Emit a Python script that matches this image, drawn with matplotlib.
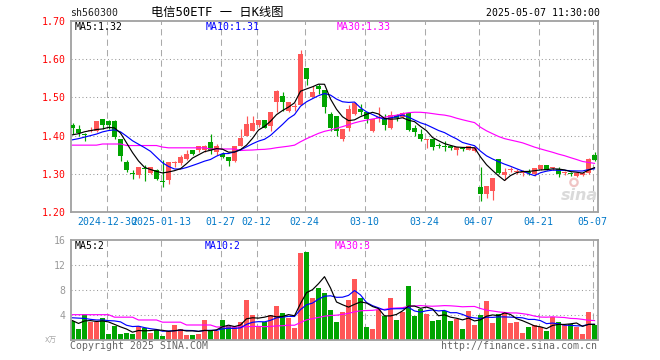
import matplotlib
matplotlib.use("Agg")
import matplotlib.pyplot as plt
import numpy as np

# ---------------- data ----------------
dates = [
    "2024-12-20", "2024-12-23", "2024-12-24", "2024-12-25", "2024-12-26", "2024-12-27",
    "2024-12-30", "2024-12-31", "2025-01-02", "2025-01-03", "2025-01-06", "2025-01-07",
    "2025-01-08", "2025-01-09", "2025-01-10", "2025-01-13", "2025-01-14", "2025-01-15",
    "2025-01-16", "2025-01-17", "2025-01-20", "2025-01-21", "2025-01-22", "2025-01-23",
    "2025-01-24", "2025-01-27", "2025-02-05", "2025-02-06", "2025-02-07", "2025-02-10",
    "2025-02-11", "2025-02-12", "2025-02-13", "2025-02-14", "2025-02-17", "2025-02-18",
    "2025-02-19", "2025-02-20", "2025-02-21", "2025-02-24", "2025-02-25", "2025-02-26",
    "2025-02-27", "2025-02-28", "2025-03-03", "2025-03-04", "2025-03-05", "2025-03-06",
    "2025-03-07", "2025-03-10", "2025-03-11", "2025-03-12", "2025-03-13", "2025-03-14",
    "2025-03-17", "2025-03-18", "2025-03-19", "2025-03-20", "2025-03-21", "2025-03-24",
    "2025-03-25", "2025-03-26", "2025-03-27", "2025-03-28", "2025-03-31", "2025-04-01",
    "2025-04-02", "2025-04-03", "2025-04-07", "2025-04-08", "2025-04-09", "2025-04-10",
    "2025-04-11", "2025-04-14", "2025-04-15", "2025-04-16", "2025-04-17", "2025-04-18",
    "2025-04-21", "2025-04-22", "2025-04-23", "2025-04-24", "2025-04-25", "2025-04-28",
    "2025-04-29", "2025-04-30", "2025-05-06", "2025-05-07",
]

open_ = [
    1.427, 1.416, 1.405, 1.411, 1.412, 1.444, 1.438, 1.437, 1.390, 1.330,
    1.301, 1.296, 1.316, 1.303, 1.310, 1.280, 1.284, 1.328, 1.327, 1.339,
    1.361, 1.362, 1.363, 1.382, 1.358, 1.352, 1.345, 1.333, 1.373, 1.400,
    1.413, 1.427, 1.442, 1.426, 1.488, 1.503, 1.464, 1.475, 1.481, 1.578,
    1.502, 1.530, 1.520, 1.456, 1.452, 1.390, 1.421, 1.456, 1.469, 1.462,
    1.411, 1.445, 1.447, 1.421, 1.454, 1.450, 1.459, 1.420, 1.405, 1.389,
    1.390, 1.375, 1.373, 1.373, 1.362, 1.365, 1.362, 1.360, 1.265, 1.246,
    1.255, 1.338, 1.298, 1.310, 1.306, 1.303, 1.304, 1.300, 1.313, 1.322,
    1.314, 1.313, 1.303, 1.301, 1.295, 1.297, 1.302, 1.348,
]
high = [
    1.433, 1.427, 1.406, 1.423, 1.437, 1.444, 1.440, 1.442, 1.390, 1.335,
    1.310, 1.317, 1.322, 1.319, 1.312, 1.335, 1.331, 1.333, 1.350, 1.361,
    1.363, 1.372, 1.376, 1.403, 1.378, 1.356, 1.345, 1.373, 1.418, 1.452,
    1.452, 1.442, 1.442, 1.463, 1.520, 1.514, 1.488, 1.486, 1.623, 1.578,
    1.530, 1.536, 1.520, 1.462, 1.452, 1.417, 1.479, 1.487, 1.482, 1.462,
    1.444, 1.475, 1.456, 1.464, 1.456, 1.462, 1.459, 1.427, 1.416, 1.392,
    1.390, 1.380, 1.387, 1.373, 1.370, 1.368, 1.374, 1.372, 1.317, 1.269,
    1.289, 1.338, 1.315, 1.317, 1.313, 1.309, 1.313, 1.315, 1.322, 1.322,
    1.319, 1.317, 1.307, 1.304, 1.302, 1.303, 1.341, 1.358,
]
low = [
    1.403, 1.400, 1.386, 1.409, 1.410, 1.417, 1.418, 1.390, 1.333, 1.304,
    1.286, 1.289, 1.281, 1.300, 1.283, 1.265, 1.272, 1.317, 1.324, 1.337,
    1.348, 1.357, 1.358, 1.353, 1.350, 1.342, 1.320, 1.330, 1.372, 1.398,
    1.411, 1.422, 1.420, 1.412, 1.461, 1.464, 1.461, 1.464, 1.479, 1.532,
    1.501, 1.510, 1.458, 1.413, 1.400, 1.387, 1.413, 1.455, 1.453, 1.433,
    1.409, 1.435, 1.414, 1.417, 1.438, 1.447, 1.411, 1.400, 1.385, 1.368,
    1.361, 1.368, 1.359, 1.361, 1.348, 1.360, 1.361, 1.356, 1.228, 1.236,
    1.231, 1.300, 1.284, 1.304, 1.300, 1.293, 1.298, 1.293, 1.309, 1.309,
    1.310, 1.291, 1.298, 1.293, 1.292, 1.295, 1.300, 1.333,
]
close = [
    1.420, 1.407, 1.402, 1.414, 1.437, 1.427, 1.427, 1.396, 1.346, 1.310,
    1.299, 1.317, 1.313, 1.317, 1.286, 1.278, 1.330, 1.330, 1.343, 1.351,
    1.352, 1.372, 1.372, 1.361, 1.373, 1.344, 1.333, 1.373, 1.394, 1.431,
    1.433, 1.442, 1.420, 1.462, 1.517, 1.487, 1.487, 1.476, 1.614, 1.547,
    1.515, 1.521, 1.475, 1.421, 1.413, 1.417, 1.470, 1.485, 1.463, 1.443,
    1.444, 1.448, 1.427, 1.453, 1.447, 1.459, 1.415, 1.409, 1.390, 1.391,
    1.370, 1.373, 1.371, 1.367, 1.370, 1.364, 1.372, 1.368, 1.246, 1.269,
    1.289, 1.302, 1.306, 1.311, 1.307, 1.304, 1.303, 1.315, 1.322, 1.310,
    1.315, 1.300, 1.304, 1.300, 1.302, 1.303, 1.339, 1.337,
]
volume = [
    3.15, 1.80, 4.20, 3.00, 2.90, 3.60, 1.00, 2.25, 1.00, 1.17,
    1.07, 2.35, 1.97, 1.23, 1.70, 0.75, 1.50, 2.50, 1.87, 0.85,
    0.85, 1.07, 3.30, 1.60, 1.55, 3.30, 2.35, 2.20, 2.85, 6.50,
    4.10, 2.10, 2.95, 4.10, 5.50, 4.40, 3.60, 2.00, 13.9, 14.2,
    6.80, 8.40, 7.60, 4.85, 3.00, 4.60, 6.50, 9.80, 6.80, 2.13,
    1.80, 4.85, 3.95, 6.80, 3.30, 4.60, 8.75, 3.95, 5.00, 4.27,
    3.10, 3.30, 4.70, 3.15, 3.40, 1.80, 4.70, 2.45, 4.05, 6.30,
    2.80, 4.15, 4.60, 2.80, 2.95, 1.17, 2.13, 2.45, 2.10, 1.50,
    3.70, 2.95, 2.45, 2.55, 2.20, 1.00, 4.55, 2.45,
]

# closes before the first visible day (for the early moving averages)
prior_close = [1.377, 1.362, 1.374, 1.397, 1.370, 1.392, 1.377, 1.399, 1.422]
ma30_head = [1.375] * 5 + [1.378] * 4 + [1.374] * 6 + [1.370] + [1.368] * 7 + [1.365] * 5 + [1.361]
vol_ma5_head = [3.15, 2.7, 3.1, 3.15]
vol_ma10_head = [3.6, 3.55, 3.5, 3.35, 3.25, 3.25, 3.15, 3.1, 2.95]
vol_ma30_head = [4.1] * 7 + [3.7] * 4 + [3.25] * 4 + [2.9] * 4 + [2.45] * 5 + [2.13] * 5

tick_dates = ["2024-12-30", "2025-01-13", "2025-01-27", "2025-02-12", "2025-02-24",
              "2025-03-10", "2025-03-24", "2025-04-07", "2025-04-21", "2025-05-07"]
tick_labels = ["2024-12-30", "2025-01-13", "01-27", "02-12", "02-24",
               "03-10", "03-24", "04-07", "04-21", "05-07"]
price_ticks = [1.20, 1.30, 1.40, 1.50, 1.60, 1.70]
vol_ticks = [4, 8, 12, 16]
price_legend = ["MA5:1.32", "MA10:1.31", "MA30:1.33"]
vol_legend = ["MA5:2", "MA10:2", "MA30:3"]
title_code = "sh560300"
title_name = "电信50ETF 一 日K线图"
title_time = "2025-05-07 11:30:00"

# ---------------- derived ----------------
n = len(close)
x = np.arange(n)
o = np.array(open_); h = np.array(high); l = np.array(low); c = np.array(close)
v = np.array(volume)
fullc = np.array(prior_close + close)
k = len(prior_close)
ma5 = np.array([fullc[k + i - 4:k + i + 1].mean() for i in range(n)])
ma10 = np.array([fullc[k + i - 9:k + i + 1].mean() for i in range(n)])
ma30 = np.array([ma30_head[i] if i < 29 else c[i - 29:i + 1].mean() for i in range(n)])
vma5 = np.array([vol_ma5_head[i] if i < 4 else v[i - 4:i + 1].mean() for i in range(n)])
vma10 = np.array([vol_ma10_head[i] if i < 9 else v[i - 9:i + 1].mean() for i in range(n)])
vma30 = np.array([vol_ma30_head[i] if i < 29 else v[i - 29:i + 1].mean() for i in range(n)])

RED = "#ff5757"
GREEN = "#00a400"
up = c >= o
cols = np.where(up, RED, GREEN)

W, H = 660, 360
fig = plt.figure(figsize=(6.6, 3.6), dpi=100)
fig.patch.set_facecolor("white")
MONO = "DejaVu Sans Mono"
FS = 7.1


def fx(px):
    return px / W


def fy(py):
    return 1 - py / H


ax = fig.add_axes([fx(70.7), fy(212), fx(597.7) - fx(70.7), fy(21) - fy(212)])
axv = fig.add_axes([fx(70.7), fy(340.3), fx(597.7) - fx(70.7), fy(240.3) - fy(340.3)])

XL = (-0.3, n - 1 + 0.53)
tick_idx = [dates.index(d) for d in tick_dates]
for a in (ax, axv):
    a.set_xlim(*XL)
    a.set_xticks([])
    for s in a.spines.values():
        s.set_color("#a0a0a0")
        s.set_linewidth(1.3)
    for t in tick_idx:
        a.axvline(t - 0.28, color="#aaaaaa", lw=0.75, linestyle=(0, (6, 4)), zorder=0)

# price panel
ax.set_ylim(1.20, 1.70)
for p in price_ticks[1:-1]:
    ax.axhline(p, color="#999999", lw=0.75, linestyle=(0, (1, 2.5)), zorder=0)
ax.set_yticks(price_ticks)
ax.set_yticklabels([f"{p:.2f}" for p in price_ticks], color="red", fontsize=FS, family=MONO)
ax.tick_params(axis="y", length=0, pad=3.5)

# watermark (behind the candles)
ax.text(0.965, 0.085, "sina", transform=ax.transAxes, fontsize=11.5, style="italic",
        weight="bold", color="#dadada", va="center", ha="center", zorder=1)
ax.scatter([0.955], [0.155], transform=ax.transAxes, s=28, facecolors="none",
           edgecolors="#f0c4c4", linewidths=1.6, zorder=1)

ax.vlines(x, l, h, colors=cols, lw=0.85, zorder=2)
body_h = np.maximum(np.abs(c - o), 0.0026)
ax.bar(x, body_h, bottom=np.minimum(o, c), width=0.8, color=cols, linewidth=0, zorder=3)
ax.plot(x, ma30, color="#ff00ff", lw=0.85, zorder=4)
ax.plot(x, ma10, color="#0000ff", lw=0.85, zorder=4)
ax.plot(x, ma5, color="black", lw=0.85, zorder=4)

for txt, xp, col in zip(price_legend, [74.5, 205.5, 336.5], ["black", "#0000ff", "#ff00ff"]):
    fig.text(fx(xp), fy(26.7), txt, color=col, fontsize=FS, family=MONO, va="center", ha="left")

for t, lab in zip(tick_idx, tick_labels):
    xpix = 70.7 + (t - 0.28 - XL[0]) / (XL[1] - XL[0]) * (597.7 - 70.7)
    fig.text(fx(xpix), fy(221.7), lab, color="#0078c8", fontsize=FS, family=MONO,
             ha="center", va="center")

# volume panel
axv.set_ylim(0, 16)
for q in vol_ticks[:-1]:
    axv.axhline(q, color="#999999", lw=0.75, linestyle=(0, (1, 2.5)), zorder=0)
axv.set_yticks(vol_ticks)
axv.set_yticklabels([str(q) for q in vol_ticks], color="#999999", fontsize=FS, family=MONO)
axv.tick_params(axis="y", length=0, pad=3.5)
axv.bar(x, v, width=0.82, color=cols, linewidth=0, zorder=2)
axv.plot(x, vma30, color="#ff00ff", lw=0.85, zorder=4)
axv.plot(x, vma10, color="#0000ff", lw=0.85, zorder=4)
axv.plot(x, vma5, color="black", lw=0.85, zorder=4)
for txt, xp, col in zip(vol_legend, [74.7, 205, 335], ["black", "#0000ff", "#ff00ff"]):
    fig.text(fx(xp), fy(246), txt, color=col, fontsize=FS, family=MONO, va="center", ha="left")

# header / footer
fig.text(fx(70), fy(13.3), title_code, fontsize=FS, family=MONO, va="center", ha="left", color="#222222")
fig.text(fx(217), fy(12), title_name, fontsize=8.8, family=[MONO, "Noto Sans CJK SC"],
         va="center", ha="center", color="black")
fig.text(fx(600), fy(13), title_time, fontsize=FS, family=MONO, va="center", ha="right", color="black")
fig.text(fx(70), fy(345.7), "Copyright 2025 SINA.COM", fontsize=FS, family=MONO,
         va="center", ha="left", color="#666666")
fig.text(fx(597), fy(346), "http://finance.sina.com.cn", fontsize=FS, family=MONO,
         va="center", ha="right", color="#666666")
fig.text(fx(51), fy(340.5), "x万", fontsize=5.5, family=["DejaVu Sans", "Noto Sans CJK SC"],
         va="center", ha="center", color="#aaaaaa")

fig.savefig("out.png", dpi=100, facecolor="white")
